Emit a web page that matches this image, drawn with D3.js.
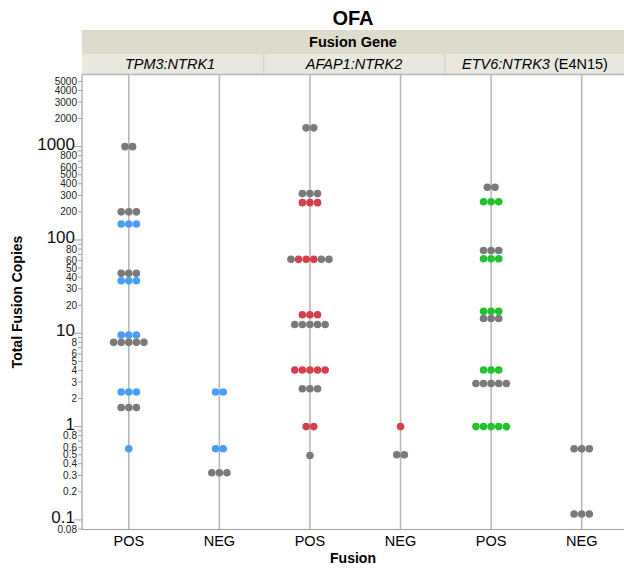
<!DOCTYPE html>
<html>
<head>
<meta charset="utf-8">
<script src="https://cdn.jsdelivr.net/npm/d3@7"></script>
<style>
  body { margin: 0; background: #fff; font-family: "Liberation Sans", Arial, sans-serif; }
</style>
</head>
<body>
<div id="d3-container"></div>
<script>
/**
 * CONSTANTS AND GLOBALS
 * */
const width = 624,
  height = 569,
  margin = { top: 74, bottom: 40, left: 82, right: 0 };

// categories
const genes = ["TPM3:NTRK1", "AFAP1:NTRK2", "ETV6:NTRK3"];
const geneSuffix = ["", "", " (E4N15)"];
const fusions = ["POS", "NEG"];

// y ticks
const majorTicks = [0.1, 1, 10, 100, 1000];
const minorTicks = [0.08, 0.2, 0.3, 0.4, 0.5, 0.6, 0.7, 0.8, 0.9,
  2, 3, 4, 5, 6, 7, 8, 9, 20, 30, 40, 50, 60, 70, 80, 90,
  200, 300, 400, 500, 600, 700, 800, 900, 2000, 3000, 4000, 5000];
const minorLabels = [0.08, 0.2, 0.3, 0.4, 0.5, 0.6, 0.8, 2, 3, 4, 5, 6, 8,
  20, 30, 40, 50, 60, 80, 200, 300, 400, 500, 600, 800, 2000, 3000, 4000, 5000];

// one row of dots per entry: gene, fusion, total copies, kind of each dot (g = grey, c = gene colour)
const dotRows = [
  ["TPM3:NTRK1", "POS", 1000, "gg"],
  ["TPM3:NTRK1", "POS", 200, "ggg"],
  ["TPM3:NTRK1", "POS", 148, "ccc"],
  ["TPM3:NTRK1", "POS", 44, "ggg"],
  ["TPM3:NTRK1", "POS", 36.5, "ccc"],
  ["TPM3:NTRK1", "POS", 9.6, "ccc"],
  ["TPM3:NTRK1", "POS", 8, "ggggg"],
  ["TPM3:NTRK1", "POS", 2.35, "ccc"],
  ["TPM3:NTRK1", "POS", 1.6, "ggg"],
  ["TPM3:NTRK1", "POS", 0.58, "c"],
  ["TPM3:NTRK1", "NEG", 2.35, "cc"],
  ["TPM3:NTRK1", "NEG", 0.58, "cc"],
  ["TPM3:NTRK1", "NEG", 0.32, "ggg"],
  ["AFAP1:NTRK2", "POS", 1590, "gg"],
  ["AFAP1:NTRK2", "POS", 314, "ggg"],
  ["AFAP1:NTRK2", "POS", 251, "ccc"],
  ["AFAP1:NTRK2", "POS", 62, "gcccgg"],
  ["AFAP1:NTRK2", "POS", 15.8, "ccc"],
  ["AFAP1:NTRK2", "POS", 12.4, "ggggg"],
  ["AFAP1:NTRK2", "POS", 4.05, "ccccc"],
  ["AFAP1:NTRK2", "POS", 2.55, "ggg"],
  ["AFAP1:NTRK2", "POS", 1.0, "cc"],
  ["AFAP1:NTRK2", "POS", 0.49, "g"],
  ["AFAP1:NTRK2", "NEG", 1.0, "c"],
  ["AFAP1:NTRK2", "NEG", 0.5, "gg"],
  ["ETV6:NTRK3", "POS", 367, "gg"],
  ["ETV6:NTRK3", "POS", 257, "ccc"],
  ["ETV6:NTRK3", "POS", 77, "ggg"],
  ["ETV6:NTRK3", "POS", 63, "ccc"],
  ["ETV6:NTRK3", "POS", 17.2, "ccc"],
  ["ETV6:NTRK3", "POS", 14.4, "ggg"],
  ["ETV6:NTRK3", "POS", 4.05, "ccc"],
  ["ETV6:NTRK3", "POS", 2.9, "ggggg"],
  ["ETV6:NTRK3", "POS", 1.0, "ccccc"],
  ["ETV6:NTRK3", "NEG", 0.58, "ggg"],
  ["ETV6:NTRK3", "NEG", 0.116, "ggg"]
];

const geneColor = d3.scaleOrdinal(genes, ["#4a9df5", "#d5404f", "#22c12f"]);
const grey = "#7a7a7a";
const dotR = 3.8, dotStep = 7.6;

const svg = d3.select("#d3-container")
  .append("svg")
  .attr("width", width)
  .attr("height", height);

// scales
const y = d3.scaleLog().domain([0.08, 6000]).range([529, margin.top]);
const xPanel = d3.scaleBand().domain(genes).range([83.5, 627]);
const xFus = d3.scalePoint().domain(fusions).range([0, xPanel.bandwidth()]).padding(0.5);
const xPos = (g, f) => xPanel(g) + xFus(f);

// title
svg.append("text")
  .attr("x", 353).attr("y", 25)
  .attr("text-anchor", "middle")
  .style("font-size", "20px").style("font-weight", "bold")
  .text("OFA");

// header bands
svg.append("rect")
  .attr("x", margin.left).attr("y", 30)
  .attr("width", width - margin.left).attr("height", 24)
  .attr("fill", "#dcdbcc");
svg.append("text")
  .attr("x", 353).attr("y", 47)
  .attr("text-anchor", "middle")
  .style("font-size", "14.5px").style("font-weight", "bold")
  .text("Fusion Gene");

svg.append("rect")
  .attr("x", margin.left).attr("y", 54)
  .attr("width", width - margin.left).attr("height", 20)
  .attr("fill", "#e9e8df");

genes.slice(1).forEach(g => {
  svg.append("line")
    .attr("x1", xPanel(g) - 1).attr("x2", xPanel(g) - 1)
    .attr("y1", 54).attr("y2", 74)
    .attr("stroke", "#d6d5ca").attr("stroke-width", 1.5);
});
svg.append("line")
  .attr("x1", margin.left).attr("x2", width)
  .attr("y1", 74.5).attr("y2", 74.5)
  .attr("stroke", "#b5b5b5").attr("stroke-width", 1.5);

const headerText = svg.selectAll(".gene-label")
  .data(genes)
  .join("text")
  .attr("class", "gene-label")
  .attr("x", (d, i) => i === 0 ? 170 : i === 1 ? 354 : 535)
  .attr("y", 69)
  .attr("text-anchor", "middle")
  .style("font-size", "14.5px");
headerText.append("tspan").style("font-style", "italic").text(d => d);
headerText.append("tspan").text((d, i) => geneSuffix[i]);

// category lines
svg.selectAll(".cat-line")
  .data(d3.cross(genes, fusions))
  .join("line")
  .attr("class", "cat-line")
  .attr("x1", d => xPos(d[0], d[1]))
  .attr("x2", d => xPos(d[0], d[1]))
  .attr("y1", 75).attr("y2", 529)
  .attr("stroke", "#b8b8b8").attr("stroke-width", 1.6);

// y axis
const axisColor = "#a0a0a0";
svg.append("line")
  .attr("x1", margin.left).attr("x2", margin.left)
  .attr("y1", 75).attr("y2", 529.5)
  .attr("stroke", axisColor).attr("stroke-width", 1.2);

svg.selectAll(".minor-tick")
  .data(minorTicks)
  .join("line")
  .attr("class", "minor-tick")
  .attr("x1", margin.left - 4).attr("x2", margin.left)
  .attr("y1", d => y(d)).attr("y2", d => y(d))
  .attr("stroke", axisColor);

svg.selectAll(".major-tick")
  .data(majorTicks)
  .join("line")
  .attr("class", "major-tick")
  .attr("x1", margin.left - 8).attr("x2", margin.left)
  .attr("y1", d => y(d)).attr("y2", d => y(d))
  .attr("stroke", axisColor);

svg.selectAll(".minor-label")
  .data(minorLabels)
  .join("text")
  .attr("class", "minor-label")
  .attr("x", margin.left - 5)
  .attr("y", d => y(d) + 3.5)
  .attr("text-anchor", "end")
  .style("font-size", "10px")
  .style("fill", "#222")
  .text(d => d);

svg.selectAll(".major-label")
  .data(majorTicks)
  .join("text")
  .attr("class", "major-label")
  .attr("x", margin.left - 7)
  .attr("y", d => y(d) + 3)
  .attr("text-anchor", "end")
  .style("font-size", "17px")
  .style("fill", "#111")
  .text(d => d);

svg.append("text")
  .attr("transform", `translate(22,${(75 + 529) / 2}) rotate(-90)`)
  .attr("text-anchor", "middle")
  .style("font-size", "14px").style("font-weight", "bold")
  .text("Total Fusion Copies");

// x axis
svg.append("line")
  .attr("x1", margin.left).attr("x2", width)
  .attr("y1", 529.5).attr("y2", 529.5)
  .attr("stroke", axisColor).attr("stroke-width", 1.2);

svg.selectAll(".fus-label")
  .data(d3.cross(genes, fusions))
  .join("text")
  .attr("class", "fus-label")
  .attr("x", d => xPos(d[0], d[1]))
  .attr("y", 546)
  .attr("text-anchor", "middle")
  .style("font-size", "14.5px")
  .text(d => d[1]);

svg.append("text")
  .attr("x", 353).attr("y", 563)
  .attr("text-anchor", "middle")
  .style("font-size", "14px").style("font-weight", "bold")
  .text("Fusion");

// dots
const dots = dotRows.flatMap(([gene, fus, value, kinds]) =>
  kinds.split("").map((k, i) => ({
    gene, fus, value, kind: k,
    offset: (i - (kinds.length - 1) / 2) * dotStep
  })));

svg.selectAll(".dot")
  .data(dots)
  .join("circle")
  .attr("class", "dot")
  .attr("cx", d => xPos(d.gene, d.fus) + d.offset)
  .attr("cy", d => y(d.value))
  .attr("r", dotR)
  .attr("fill", d => d.kind === "g" ? grey : geneColor(d.gene));
</script>
</body>
</html>
